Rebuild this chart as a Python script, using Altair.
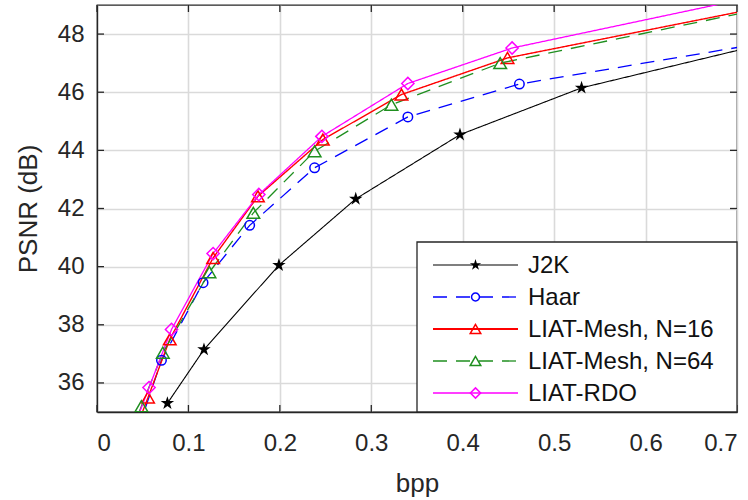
import altair as alt
import pandas as pd

series = ["J2K", "Haar", "LIAT-Mesh, N=16", "LIAT-Mesh, N=64", "LIAT-RDO"]

j2k_bpp = [0.077, 0.117, 0.199, 0.283, 0.397, 0.530, 0.78]
j2k_psnr = [35.3, 37.15, 40.05, 42.33, 44.54, 46.15, 48.04]
haar_bpp = [0.045, 0.0705, 0.116, 0.167, 0.238, 0.340, 0.462, 0.78]
haar_psnr = [34.4, 36.78, 39.45, 41.42, 43.40, 45.15, 46.28, 47.96]
m16_bpp = [0.040, 0.0558, 0.0796, 0.127, 0.176, 0.247, 0.333, 0.449, 0.78]
m16_psnr = [34.2, 35.5, 37.5, 40.3, 42.42, 44.37, 45.92, 47.18, 49.25]
m64_bpp = [0.036, 0.0486, 0.072, 0.123, 0.171, 0.238, 0.322, 0.441, 0.78]
m64_psnr = [34.2, 35.2, 37.04, 39.81, 41.85, 43.97, 45.57, 47.0, 49.21]
rdo_bpp = [0.037, 0.0569, 0.0815, 0.127, 0.177, 0.246, 0.340, 0.454, 0.78]
rdo_psnr = [34.2, 35.84, 37.84, 40.45, 42.48, 44.48, 46.30, 47.52, 49.69]

x_ticks = [0, 0.1, 0.2, 0.3, 0.4, 0.5, 0.6, 0.7]
y_ticks = [36, 38, 40, 42, 44, 46, 48]

all_bpp = [j2k_bpp, haar_bpp, m16_bpp, m64_bpp, rdo_bpp]
all_psnr = [j2k_psnr, haar_psnr, m16_psnr, m64_psnr, rdo_psnr]

rows = []
for s, bx, py in zip(series, all_bpp, all_psnr):
    for a, b in zip(bx, py):
        rows.append({"series": s, "bpp": a, "psnr": b})
df = pd.DataFrame(rows)

STAR = ("M0,-1L0.2245,-0.309L0.951,-0.309L0.363,0.118L0.588,0.809L0,0.382"
        "L-0.588,0.809L-0.363,0.118L-0.951,-0.309L-0.2245,-0.309Z")

styles = {
    "J2K": dict(color="#000000", dash=[1, 0], width=1.1, shape=STAR, size=200, filled=True),
    "Haar": dict(color="#0000ff", dash=[14, 9], width=1.3, shape="circle", size=90, filled=False),
    "LIAT-Mesh, N=16": dict(color="#ff0000", dash=[1, 0], width=1.4, shape="triangle-up", size=160, filled=False),
    "LIAT-Mesh, N=64": dict(color="#1f8f1f", dash=[14, 9], width=1.3, shape="triangle-up", size=160, filled=False),
    "LIAT-RDO": dict(color="#ff00ff", dash=[1, 0], width=1.3, shape="diamond", size=150, filled=False),
}

W, H = 640, 407
xscale = alt.Scale(domain=[0, 0.7], nice=False)
yscale = alt.Scale(domain=[35, 49], nice=False, zero=False)
xaxis = alt.Axis(values=x_ticks, format="~g", title="bpp", labelPadding=19,
                 titleX=W / 2, titleY=71, titleBaseline="middle", titleAlign="center")
yaxis = alt.Axis(values=y_ticks, title="PSNR (dB)", labelPadding=13,
                 titleX=-69, titleY=H / 2, titleBaseline="middle", titleAlign="center")


def X(field="bpp"):
    return alt.X(f"{field}:Q", scale=xscale, axis=xaxis)


def Y(field="psnr"):
    return alt.Y(f"{field}:Q", scale=yscale, axis=yaxis)


layers = []
for s in series:
    st = styles[s]
    base = alt.Chart(df).transform_filter(alt.datum.series == s)
    layers.append(base.mark_line(clip=True, color=st["color"], strokeWidth=st["width"],
                                 strokeDash=st["dash"]).encode(x=X(), y=Y()))
for s in series:
    st = styles[s]
    base = alt.Chart(df).transform_filter(alt.datum.series == s)
    layers.append(base.mark_point(clip=True, shape=st["shape"], size=st["size"],
                                  filled=st["filled"], color=st["color"], strokeWidth=1.5,
                                  opacity=1).encode(x=X(), y=Y()))

# inward ticks (MATLAB style box)
xt = pd.DataFrame({"bpp": x_ticks})
yt = pd.DataFrame({"psnr": y_ticks})
TL = 7
tick_style = dict(color="#262626", strokeWidth=1.3)
layers.append(alt.Chart(xt).mark_rule(**tick_style).encode(x=X(), y=alt.value(H), y2=alt.value(H - TL)))
layers.append(alt.Chart(xt).mark_rule(**tick_style).encode(x=X(), y=alt.value(0), y2=alt.value(TL)))
layers.append(alt.Chart(yt).mark_rule(**tick_style).encode(y=Y(), x=alt.value(0), x2=alt.value(TL)))
layers.append(alt.Chart(yt).mark_rule(**tick_style).encode(y=Y(), x=alt.value(W), x2=alt.value(W - TL)))

# legend box
one = pd.DataFrame({"k": [0]})
LX0, LY0 = 320, 237
layers.append(alt.Chart(one).mark_rect(fill="white", stroke="#262626", strokeWidth=1.3).encode(
    x=alt.value(LX0), x2=alt.value(W), y=alt.value(LY0), y2=alt.value(H)))
for i, s in enumerate(series):
    st = styles[s]
    yc = 260 + i * 32
    lw = 2.2 if s == "LIAT-Mesh, N=16" else st["width"]
    layers.append(alt.Chart(one).mark_rule(color=st["color"], strokeWidth=lw,
                                           strokeDash=st["dash"]).encode(
        x=alt.value(336), x2=alt.value(421), y=alt.value(yc)))
    layers.append(alt.Chart(one).mark_point(shape=st["shape"], size=st["size"] * 0.7,
                                            filled=st["filled"], color=st["color"],
                                            strokeWidth=1.5, opacity=1).encode(
        x=alt.value(378.5), y=alt.value(yc)))
    layers.append(alt.Chart(one).mark_text(text=s, align="left", baseline="middle",
                                           font="Liberation Sans", fontSize=24,
                                           color="#111111").encode(
        x=alt.value(431), y=alt.value(yc + 1)))

chart = alt.layer(*layers).properties(
    width=W, height=H,
    autosize=alt.AutoSizeParams(type="none"),
    padding={"left": 97, "top": 5, "right": 11, "bottom": 88},
).configure_axis(
    grid=True, gridColor="#dadada", gridWidth=1.6,
    domainColor="#262626", domainWidth=1.3, ticks=False, tickSize=0,
    labelFont="Liberation Sans", labelFontSize=24, labelColor="#262626",
    titleFont="Liberation Sans", titleFontSize=26, titleColor="#262626",
    titleFontWeight="normal",
).configure_view(stroke="#262626", strokeWidth=1.3)

chart.save("out.html", embed_options={"renderer": "svg", "actions": False})
